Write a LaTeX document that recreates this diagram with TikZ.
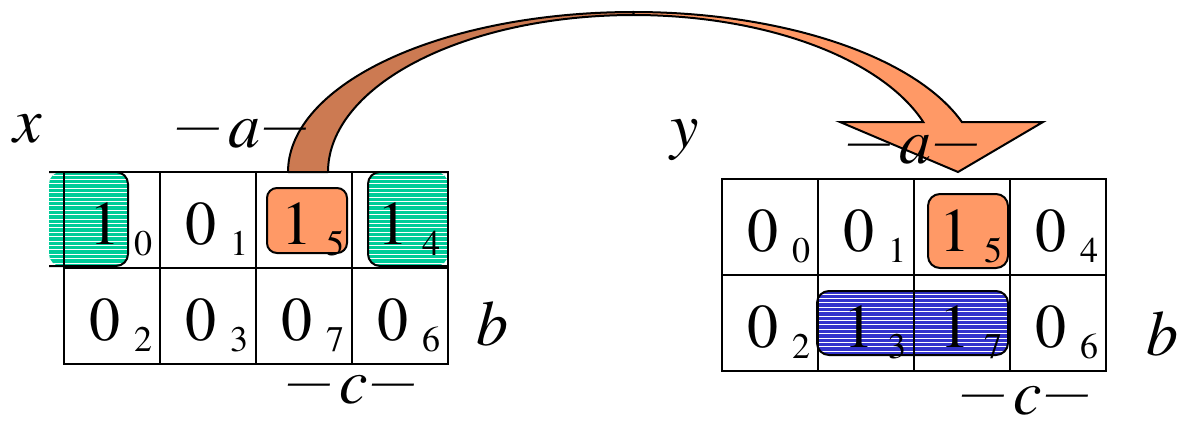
\documentclass[tikz,border=0pt]{standalone}
\usepackage{fontspec}
\setmainfont{texgyretermes}[Extension=.otf, UprightFont=*-regular, ItalicFont=*-italic, BoldFont=*-bold, BoldItalicFont=*-bolditalic]
\definecolor{kgreen}{RGB}{0,204,153}
\definecolor{korange}{RGB}{255,153,102}
\definecolor{kbrown}{RGB}{204,122,82}
\definecolor{kblue}{RGB}{51,51,204}
\tikzset{
  cellbox/.style={draw, line width=2pt, minimum width=96pt, minimum height=96pt, inner sep=0pt},
  bigd/.style={font=\fontsize{62}{62}\selectfont, inner sep=0pt, anchor=base},
  subd/.style={font=\fontsize{36}{36}\selectfont, inner sep=0pt, anchor=base},
  varlab/.style={font=\fontsize{64}{64}\selectfont\itshape, inner sep=0pt, anchor=base west},
  stripe/.style={white, line width=0.9pt},
  outl/.style={draw=black, line width=2pt},
}
\newcommand\kmcell[5]{%
  \node[cellbox] (#1) at ({#2+48},{#3+48}) {};
  \node[bigd] (#1d) at ({#2+41},{#3+72}) {#4};
  \node[subd] (#1s) at ({#2+79},{#3+83}) {#5};
}
% horizontal white stripes between x1 and x2, starting at y1
\newcommand\stripefill[3]{%
  \foreach \i in {0,...,22} \draw[stripe] (#1,{#3+4.4*\i}) -- (#2,{#3+4.4*\i});
}
\newcommand\dashlab[1]{{\fontsize{47}{47}\selectfont\raisebox{7.5pt}{—}}\hspace{10pt}\textit{#1}\hspace{4pt}{\fontsize{47}{47}\selectfont\raisebox{7.5pt}{—}}}
\begin{document}
\begin{tikzpicture}[x=1pt,y=-1pt]
\useasboundingbox[fill=white] (0,0) rectangle (1182,420);

% curved arrow
\filldraw[fill=kbrown, outl, line join=round]
  plot[domain=180:270, samples=70] ({633.6+345.6*cos(\x)},{172+160*sin(\x)})
  -- plot[domain=270:180, samples=70] ({633.6+305.6*cos(\x)},{172+157*sin(\x)}) -- cycle;
\filldraw[fill=korange, outl, line join=miter]
  plot[domain=270:341.79, samples=70] ({633.6+345.6*cos(\x)},{172+160*sin(\x)})
  -- (1043,122) -- (958,172) -- (840,122)
  -- plot[domain=341.43:270, samples=70] ({633.6+305.6*cos(\x)},{172+157*sin(\x)}) -- cycle;

% left map regions
\begin{scope}
  \path[clip, rounded corners=12pt] (49,172) -- (128,172) -- (128,266) -- (49,266) -- cycle;
  \fill[kgreen] (40,165) rectangle (135,270);
  \stripefill{40}{135}{175}
\end{scope}
\draw[outl, rounded corners=12pt] (49,172) -- (128,172) -- (128,266) -- (49,266);
\begin{scope}
  \path[clip, rounded corners=12pt] (448,172) -- (368,172) -- (368,266) -- (448,266) -- cycle;
  \fill[kgreen] (360,165) rectangle (455,270);
  \stripefill{360}{455}{175}
\end{scope}
\draw[outl, rounded corners=12pt] (448,172) -- (368,172) -- (368,266) -- (448,266);
\filldraw[fill=korange, outl, rounded corners=10pt] (267,188) rectangle (347,253);

% right map regions
\filldraw[fill=korange, outl, rounded corners=12pt] (928,194) rectangle (1008,268);
\begin{scope}
  \path[clip, rounded corners=12pt] (817,291) rectangle (1008,355);
  \fill[kblue] (810,285) rectangle (1015,360);
  \stripefill{810}{1015}{294}
\end{scope}
\draw[outl, rounded corners=12pt] (817,291) rectangle (1008,355);

% left map
\kmcell{L0}{64}{172}{1}{0}
\kmcell{L1}{160}{172}{0}{1}
\kmcell{L5}{256}{172}{1}{5}
\kmcell{L4}{352}{172}{1}{4}
\kmcell{L2}{64}{268}{0}{2}
\kmcell{L3}{160}{268}{0}{3}
\kmcell{L7}{256}{268}{0}{7}
\kmcell{L6}{352}{268}{0}{6}

% right map
\kmcell{R0}{722}{179}{0}{0}
\kmcell{R1}{818}{179}{0}{1}
\kmcell{R5}{914}{179}{1}{5}
\kmcell{R4}{1010}{179}{0}{4}
\kmcell{R2}{722}{275}{0}{2}
\kmcell{R3}{818}{275}{1}{3}
\kmcell{R7}{914}{275}{1}{7}
\kmcell{R6}{1010}{275}{0}{6}

% variable labels
\node[varlab] (x) at (13,142) {x};
\node[varlab] (y) at (670,147) {y};
\node[varlab] (la) at (177,147) {\dashlab{a}};
\node[varlab] (ra) at (848,163) {\dashlab{a}};
\node[varlab] (lb) at (476,345) {b};
\node[varlab] (rb) at (1146,355) {b};
\node[varlab] (lc) at (288,403) {\dashlab{c}};
\node[varlab, text depth=0pt] (rc) at (962,414) {\dashlab{c}};
\end{tikzpicture}
\end{document}
